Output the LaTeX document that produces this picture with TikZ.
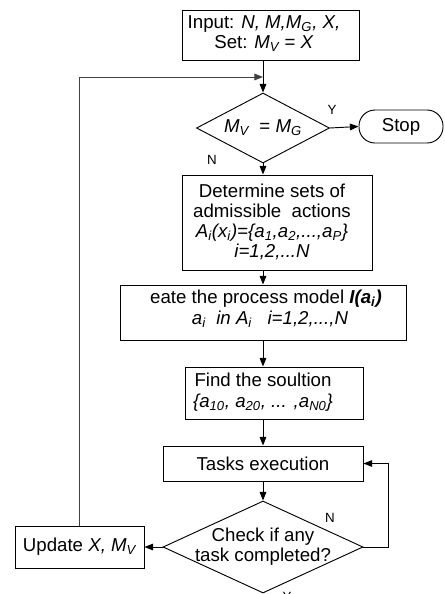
\documentclass[tikz,border=0pt]{standalone}
\usepackage{fontspec}
\setmainfont{Liberation Sans}
\usetikzlibrary{shapes.geometric,arrows.meta}
\newcommand\sbs[1]{\textsubscript{#1}}
\begin{document}
\begin{tikzpicture}[x=0.75pt,y=-0.75pt,
  font=\fontsize{14}{15}\selectfont,
  box/.style={draw, rectangle, line width=0.7pt, inner sep=0pt},
  dia/.style={draw, diamond, line width=0.7pt, inner sep=0pt},
  txt/.style={inner sep=0pt, align=center},
  lbl/.style={inner sep=0pt, font=\fontsize{10}{11}\selectfont},
  arr/.style={draw, line width=0.7pt, -{Triangle[length=6.5pt,width=5pt]}}]
\clip (0,0) rectangle (444,594);
% boxes
\node[box, minimum width=132.75pt, minimum height=37.5pt] (inp) at (270.5,35) {};
\node[txt] (inpt) at (264,33.5) {Input: \textit{N, M,M\sbs{G}, X,}\\Set: \textit{M\sbs{V}} = \textit{X}};
\node[dia, minimum width=99.75pt, minimum height=52.5pt] (d1) at (263,128) {};
\node[txt] (d1t) at (263,128) {\textit{M\sbs{V}}\ \ = \textit{M\sbs{G}}};
\node[box, rounded corners=12pt, minimum width=63pt, minimum height=24.75pt] (stop) at (401,126.5) {Stop};
\node[box, minimum width=142.5pt, minimum height=71.25pt] (det) at (277,222.5) {};
\node[txt] (dett) at (272,222) {Determine sets of\\admissible\ \ actions\\\textit{A\sbs{i}(x\sbs{i})=\{a\sbs{1},a\sbs{2},...,a\sbs{P}\}}\\\textit{i=1,2,...N}};
\node[box, minimum width=214.5pt, minimum height=41.25pt] (cr) at (263,312.5) {};
\node[txt, anchor=east] (crt1) at (382,299) {eate the process model \textbf{\textit{I(a\sbs{i})}}};
\node[txt] (crt2) at (270,319) {\textit{a\sbs{i}\ \ in A\sbs{i}\ \ \ i=1,2,...,N}};
\node[box, minimum width=133.5pt, minimum height=39pt] (find) at (274,393) {};
\node[txt] (findt) at (263,392) {Find the soultion\\[1pt]\textit{\{a\sbs{10}, a\sbs{20}, ... ,a\sbs{N0}\}}};
\node[box, minimum width=150pt, minimum height=26.25pt] (task) at (263,463.5) {Tasks execution};
\node[dia, minimum width=150pt, minimum height=69pt] (chk) at (263,547) {};
\node[txt] (chkt) at (263,547) {Check if any\\task completed?};
\node[box, minimum width=96.75pt, minimum height=31.5pt] (upd) at (79.5,547) {Update \textit{X, M\sbs{V}}};
% labels
\node[lbl] (y1) at (332,110) {Y};
\node[lbl] (n1) at (212,160) {N};
\node[lbl] (n2) at (330,518) {N};
\node[lbl] (y2) at (287,597) {Y};
% coordinates
\coordinate (lp) at (388.5,547);
\coordinate (fb) at (79.5,77);
% connectors
\draw[arr] (inp.south -| d1.north) -- (d1.north);
\draw[arr] (d1.east) -- (stop.west);
\draw[arr] (d1.south) -- (det.north -| d1.south);
\draw[arr] (det.south -| d1.south) -- (cr.north);
\draw[arr] (cr.south) -- (find.north -| cr.south);
\draw[arr] (find.south -| cr.south) -- (task.north);
\draw[arr] (task.south) -- (chk.north);
\draw[arr] (chk.east) -- (lp) |- (task.east);
\draw[arr] (chk.west) -- (upd.east);
\draw[arr, black!75] (upd.north) -- (fb) -- (fb -| d1.north);
\end{tikzpicture}
\end{document}
